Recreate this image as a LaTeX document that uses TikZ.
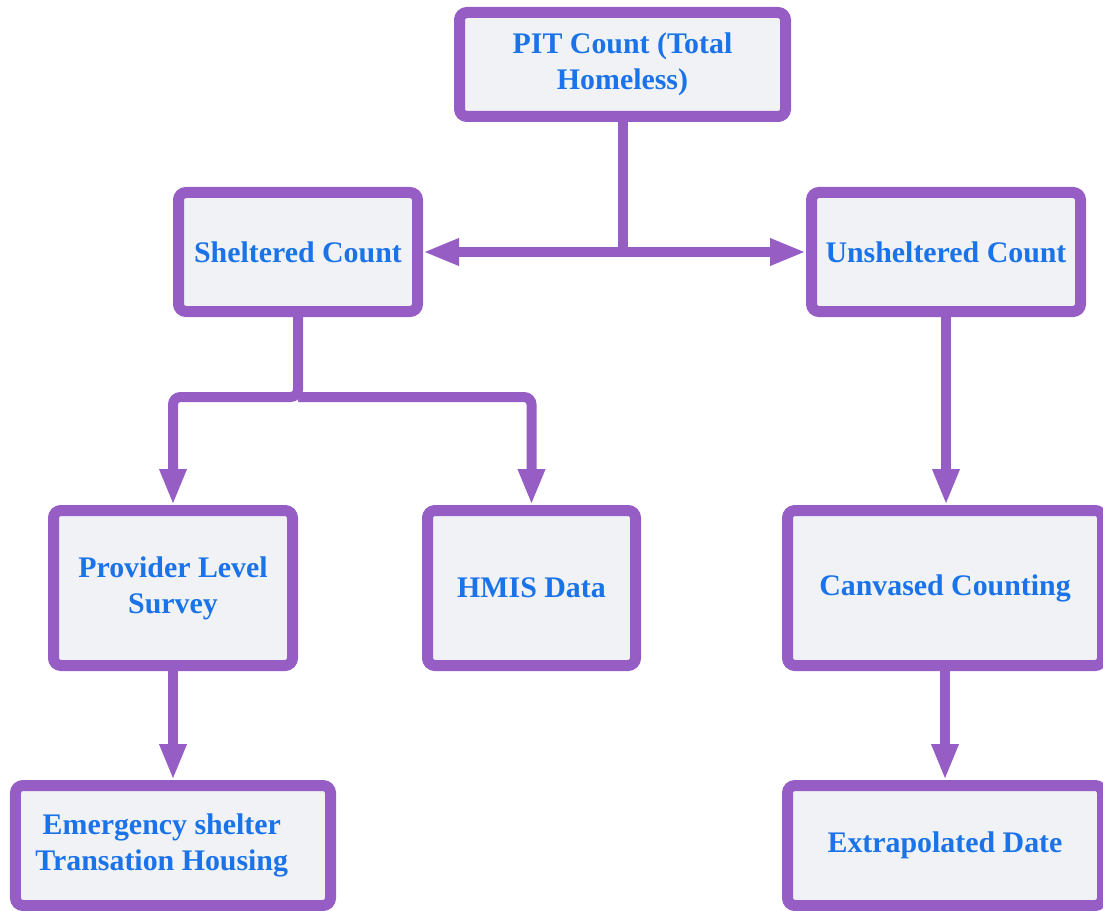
\documentclass[tikz,border=0pt]{standalone}
\usepackage{fontspec}
\setmainfont{Liberation Serif}
\usepackage{tikz}
\usetikzlibrary{calc,arrows.meta}
\definecolor{boxline}{RGB}{150,94,196}
\definecolor{boxfill}{RGB}{240,242,245}
\definecolor{textblue}{RGB}{26,115,232}
\tikzstyle{Countblock} = [draw=boxline, line width=0.22cm, fill=boxfill, rounded corners=0.15cm, rectangle, text=textblue, font=\fontsize{17}{20.5}\selectfont\bfseries, align=center, inner sep=0pt]
\tikzstyle{link} = [draw=boxline, line width=0.2cm, rounded corners=0.15cm]

\begin{document}
\begin{tikzpicture}[>={Triangle[length=0.72cm,width=0.5cm]}]
\useasboundingbox (0,0) rectangle (22.06,-18.22);

%% Top %%
\node [Countblock, minimum width=6.52cm, minimum height=2.08cm] (PIT) at (12.45,-1.29) {PIT Count (Total\\Homeless)};

%% Second row %%
\node [Countblock, minimum width=4.78cm, minimum height=2.38cm] (Sheltered) at ($(PIT)+(-6.49,-3.75)$) {Sheltered Count};
\node [Countblock, minimum width=5.38cm, minimum height=2.38cm] (Unsheltered) at ($(PIT)+(6.47,-3.75)$) {Unsheltered Count};

%% Third row %%
\node [Countblock, minimum width=4.78cm, minimum height=3.10cm] (Provider) at ($(Sheltered)+(-2.50,-6.72)$) {Provider Level\\Survey};
\node [Countblock, minimum width=4.16cm, minimum height=3.10cm] (HMIS) at ($(Sheltered)+(4.67,-6.72)$) {HMIS Data};
\node [Countblock, minimum width=6.30cm, minimum height=3.10cm] (Canvased) at ($(Unsheltered)+(-0.02,-6.72)$) {Canvased Counting};

%% Bottom row %%
\node [Countblock, minimum width=6.30cm, minimum height=2.40cm] (Emergency) at ($(Provider)+(0,-5.15)$) {Emergency shelter\hspace*{0.45cm}\\Transation Housing\hspace*{0.45cm}};
\node [Countblock, minimum width=6.30cm, minimum height=2.40cm] (Extrapolated) at ($(Canvased)+(0,-5.15)$) {Extrapolated Date};

%% Forbindelse %%
\draw[link, sharp corners, ->] (PIT) |- (Sheltered);
\draw[link, sharp corners, ->] (PIT) |- (Unsheltered);

\coordinate (ShelSplit) at ($(Sheltered.south)+(0,-1.6)$);
\draw[link, ->] (Sheltered) -- (ShelSplit) -| (Provider);
\draw[link, ->] (ShelSplit) -| (HMIS);

\draw[link, ->] (Unsheltered) -- (Unsheltered |- Canvased.north);
\draw[link, ->] (Provider) -- (Emergency);
\draw[link, ->] (Canvased) -- (Extrapolated);
\end{tikzpicture}
\end{document}
